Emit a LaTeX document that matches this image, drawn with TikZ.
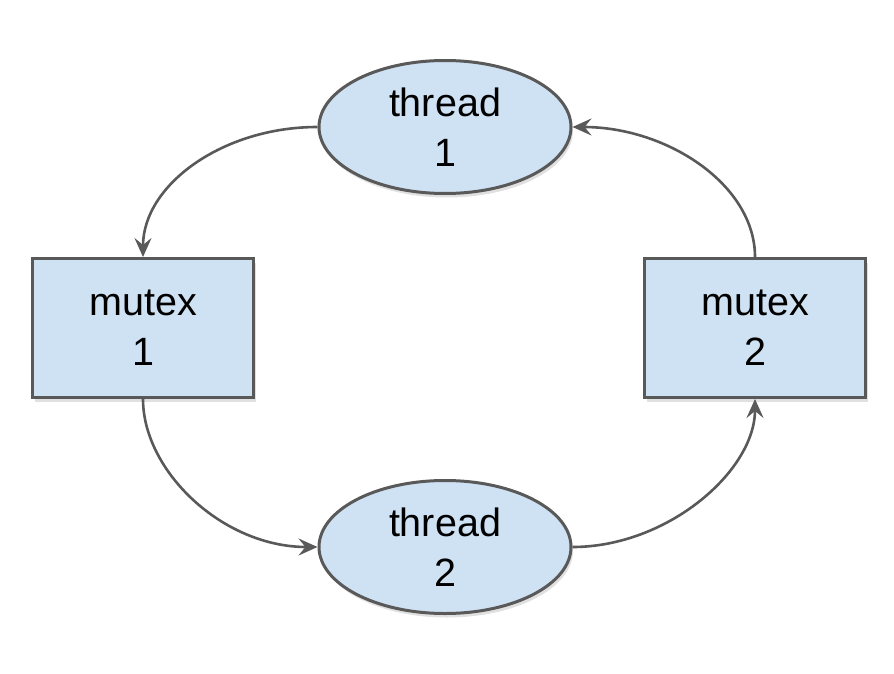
\documentclass[tikz,border=0pt]{standalone}
\usepackage{fontspec}
\setmainfont{Liberation Sans}
\usetikzlibrary{shapes.geometric,arrows.meta,shadows}
\definecolor{boxfill}{HTML}{CFE2F3}
\definecolor{edge}{HTML}{595959}
\begin{document}
\begin{tikzpicture}[x=1pt,y=-1pt,
  lbl/.style={font=\fontsize{39.5}{50}\selectfont, align=center, text=black},
  threadnode/.style={lbl, ellipse, draw=edge, line width=3pt, fill=boxfill,
     minimum width=252pt, minimum height=133pt, inner sep=0pt,
     drop shadow={shadow xshift=2pt, shadow yshift=-4pt, opacity=0.12, fill=black}},
  mutexnode/.style={lbl, rectangle, draw=edge, line width=3pt, fill=boxfill,
     minimum width=221pt, minimum height=139pt, inner sep=0pt,
     drop shadow={shadow xshift=2pt, shadow yshift=-4pt, opacity=0.12, fill=black}},
  conn/.style={draw=edge, line width=2.6pt,
     -{Stealth[length=19pt, width=17pt, inset=7pt]}},
  hv/.style={out distance=95pt, in distance=72pt},
  vh/.style={out distance=72pt, in distance=95pt}
]
\useasboundingbox (0,0) rectangle (894,674);
\node[threadnode] (t1) at (445,127) {thread\\1};
\node[threadnode] (t2) at (445,547) {thread\\2};
\node[mutexnode] (m1) at (143,328) {mutex\\1};
\node[mutexnode] (m2) at (755,328) {mutex\\2};
\draw[conn] (t1.west) to[out=180,in=90,hv] (m1.north);
\draw[conn] (m1.south) to[out=-90,in=180,vh] (t2.west);
\draw[conn] (t2.east) to[out=0,in=-90,hv] (m2.south);
\draw[conn] (m2.north) to[out=90,in=0,vh] (t1.east);
\end{tikzpicture}
\end{document}
